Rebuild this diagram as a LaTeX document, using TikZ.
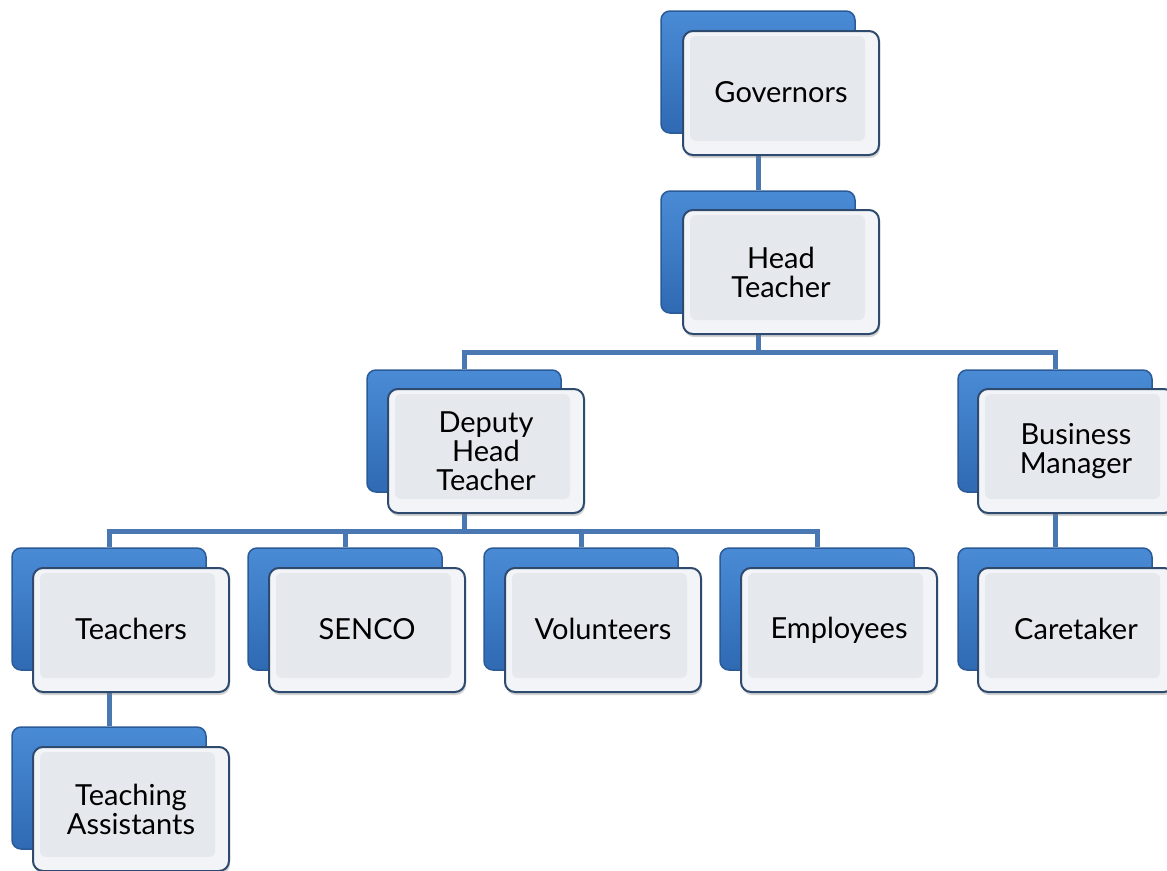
\documentclass[tikz,border=0pt]{standalone}
\usepackage{fontspec}
\setmainfont{Lato}
\usetikzlibrary{shadows,backgrounds}

\definecolor{topblue}{HTML}{4A8BD6}
\definecolor{botblue}{HTML}{2F6AB3}
\definecolor{rimblue}{HTML}{2A5A98}
\definecolor{edgegrey}{HTML}{2E4A6E}
\definecolor{paneout}{HTML}{F2F4F7}
\definecolor{panein}{HTML}{E5E9EE}
\definecolor{linkblue}{HTML}{4A78B2}

\tikzset{
  backbox/.style={draw=rimblue, line width=1.5pt, rounded corners=9pt,
    top color=topblue, bottom color=botblue,
    minimum width=194pt, minimum height=122pt, inner sep=0pt},
  frontbox/.style={draw=edgegrey, line width=2pt, rounded corners=10pt,
    fill=paneout, minimum width=196pt, minimum height=124pt, inner sep=0pt,
    align=center, font=\fontsize{29pt}{29pt}\selectfont,
    drop shadow={opacity=.35, shadow xshift=1pt, shadow yshift=-3pt},
    path picture={\fill[panein, rounded corners=6pt]
      ([shift={(7pt,-5pt)}]path picture bounding box.north west) rectangle
      ([shift={(-14pt,14pt)}]path picture bounding box.south east);}},
  link/.style={draw=linkblue, line width=5pt}
}

\begin{document}
\begin{tikzpicture}[x=1pt, y=-1pt]
\useasboundingbox (0,0) rectangle (1167,870);

\node[backbox] (govb) at (758,72) {};
\node[frontbox] (gov) at (781,93) {\raisebox{2pt}{Governors}};

\node[backbox] (htb) at (758,252) {};
\node[frontbox] (ht) at (781,272) {Head\\Teacher};

\node[backbox] (dhb) at (464,431) {};
\node[frontbox] (dh) at (486,451) {Deputy\\Head\\Teacher};

\node[backbox] (bmb) at (1055,431) {};
\node[frontbox] (bm) at (1076,451) {Business\\Manager};

\node[backbox] (tchb) at (109,609) {};
\node[frontbox] (tch) at (131,630) {\raisebox{2pt}{Teachers}};

\node[backbox] (senb) at (345,609) {};
\node[frontbox] (sen) at (367,630) {\raisebox{2pt}{SENCO}};

\node[backbox] (volb) at (581,609) {};
\node[frontbox] (vol) at (603,630) {\raisebox{2pt}{Volunteers}};

\node[backbox] (empb) at (817,609) {};
\node[frontbox] (emp) at (839,630) {\raisebox{2pt}{Employees}};

\node[backbox] (ctb) at (1055,609) {};
\node[frontbox] (ct) at (1076,630) {\raisebox{2pt}{Caretaker}};

\node[backbox] (tab) at (109,788) {};
\node[frontbox] (ta) at (131,809) {Teaching\\Assistants};

\begin{scope}[on background layer]
\coordinate (bus1) at (0,352);
\coordinate (bus2) at (0,531);
\draw[link] (govb) -- (htb);
\draw[link] (htb) -- (htb |- bus1) -| (dhb);
\draw[link] (htb |- bus1) -| (bmb);
\draw[link] (dhb) -- (dhb |- bus2) -| (tchb);
\draw[link] (dhb |- bus2) -| (senb);
\draw[link] (dhb |- bus2) -| (volb);
\draw[link] (dhb |- bus2) -| (empb);
\draw[link] (tchb) -- (tab);
\draw[link] (bmb) -- (ctb);
\end{scope}

\end{tikzpicture}
\end{document}
